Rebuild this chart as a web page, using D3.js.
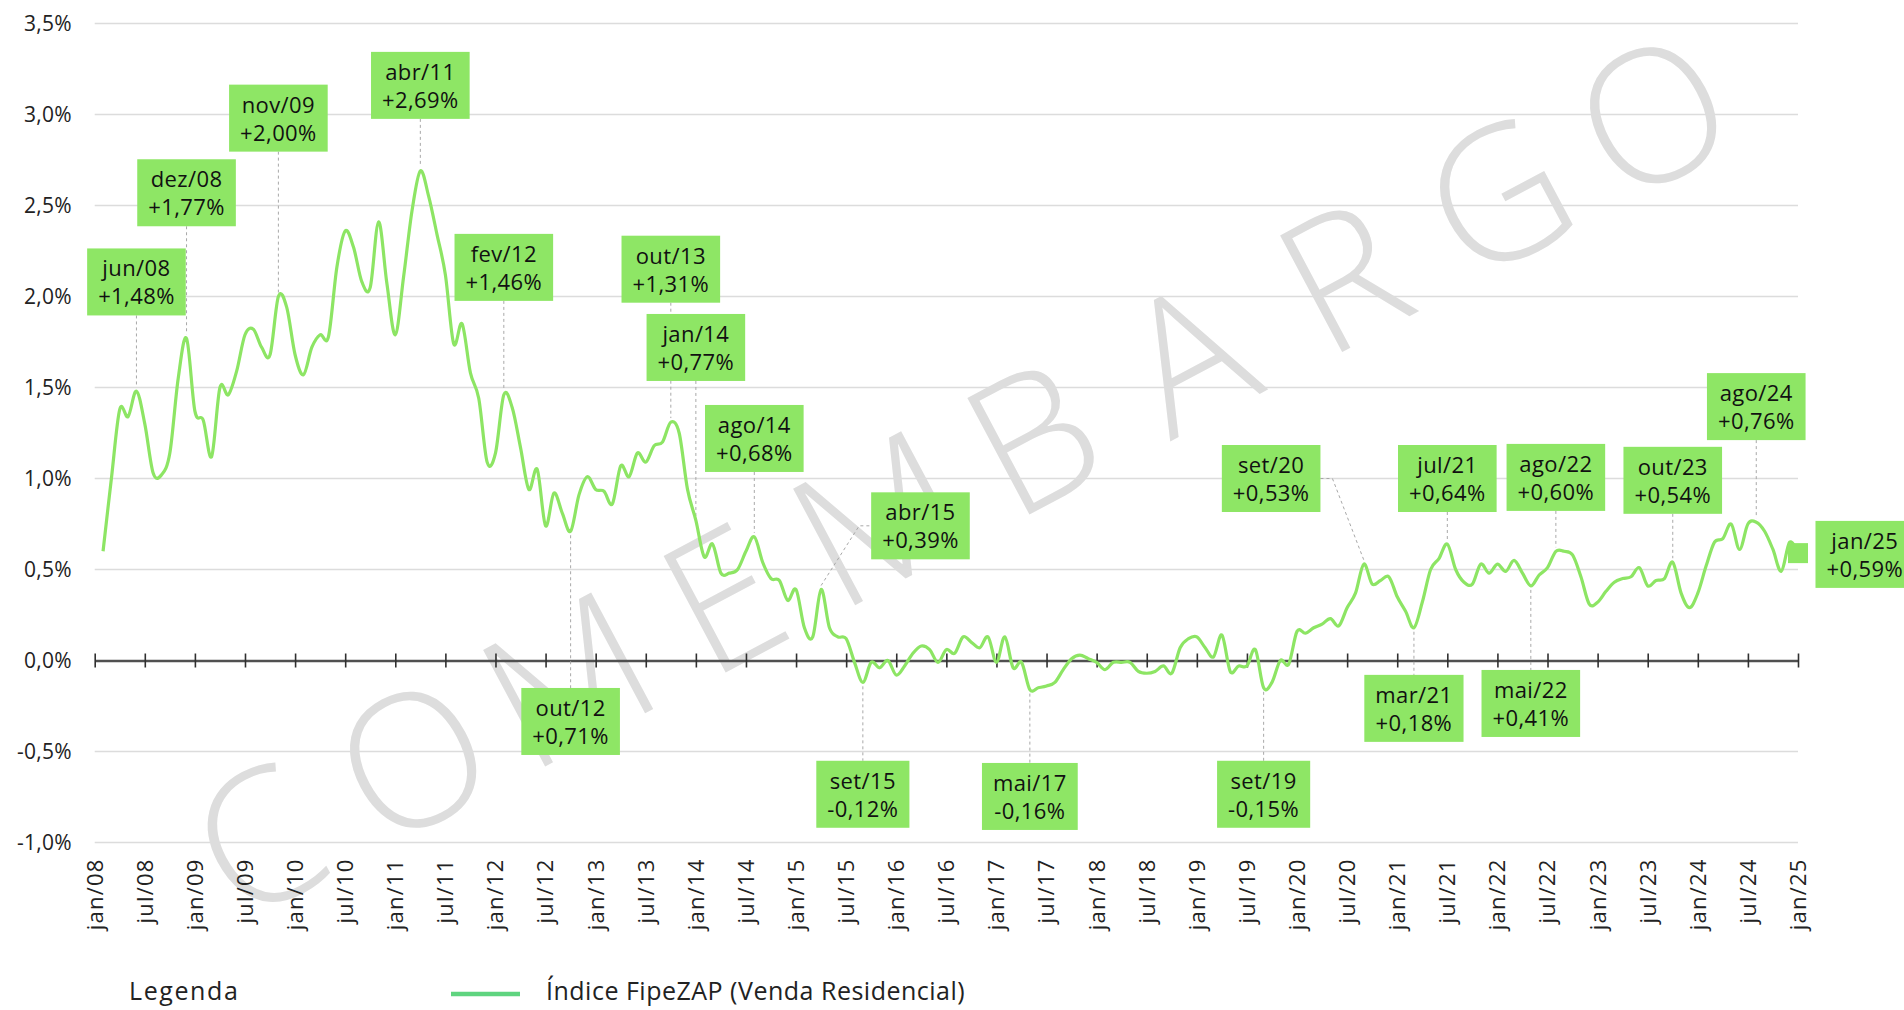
<!DOCTYPE html>
<html>
<head>
<meta charset="utf-8">
<script src="https://cdn.jsdelivr.net/npm/d3@7/dist/d3.min.js"></script>
<style>
  body { margin: 0; background: #fff; }
  text { font-family: "Open Sans", "Noto Sans", sans-serif; }
</style>
</head>
<body>
<svg id="chart"></svg>
<script>
// monthly variation (%), first value is fev/08 (month index 1 counted from jan/08)
const firstMonth = 1;
const values = [
  0.60, 1.00, 1.38, 1.34, 1.48, 1.30, 1.03, 1.02, 1.14, 1.55,
  1.77, 1.37, 1.32, 1.12, 1.50, 1.46, 1.59, 1.79, 1.82, 1.72,
  1.68, 2.00, 1.94, 1.68, 1.57, 1.72, 1.79, 1.78, 2.16, 2.36,
  2.27, 2.08, 2.05, 2.41, 2.07, 1.79, 2.11, 2.47, 2.69, 2.55,
  2.34, 2.12, 1.74, 1.85, 1.58, 1.44, 1.09, 1.14, 1.46, 1.39,
  1.17, 0.94, 1.05, 0.74, 0.92, 0.81, 0.71, 0.91, 1.01, 0.94,
  0.93, 0.86, 1.07, 1.01, 1.14, 1.09, 1.18, 1.20, 1.31, 1.25,
  0.94, 0.77, 0.57, 0.64, 0.48, 0.48, 0.50, 0.60, 0.68, 0.54,
  0.45, 0.44, 0.33, 0.39, 0.18, 0.13, 0.39, 0.18, 0.13, 0.12,
  -0.01, -0.12, -0.01, -0.04, 0.00, -0.08, -0.03, 0.04, 0.08, 0.06,
  -0.01, 0.06, 0.04, 0.13, 0.10, 0.07, 0.13, -0.01, 0.13, -0.04,
  -0.01, -0.16, -0.15, -0.14, -0.12, -0.05, 0.01, 0.03, 0.01, -0.01,
  -0.05, -0.01, -0.01, -0.01, -0.06, -0.07, -0.06, -0.03, -0.07, 0.07,
  0.12, 0.13, 0.07, 0.02, 0.14, -0.06, -0.03, -0.03, 0.06, -0.15,
  -0.12, 0.00, -0.02, 0.16, 0.15, 0.18, 0.20, 0.23, 0.19, 0.29,
  0.37, 0.53, 0.42, 0.44, 0.46, 0.35, 0.27, 0.18, 0.32, 0.50,
  0.56, 0.64, 0.50, 0.43, 0.42, 0.53, 0.48, 0.53, 0.49, 0.55,
  0.48, 0.41, 0.47, 0.51, 0.60, 0.60, 0.58, 0.46, 0.31, 0.32,
  0.38, 0.43, 0.45, 0.46, 0.51, 0.41, 0.44, 0.45, 0.54, 0.37,
  0.29, 0.37, 0.52, 0.65, 0.67, 0.75, 0.61, 0.75, 0.76, 0.71,
  0.61, 0.49, 0.65, 0.59
];

const xTickLabels = [
  "jan/08","jul/08","jan/09","jul/09","jan/10","jul/10","jan/11","jul/11","jan/12","jul/12",
  "jan/13","jul/13","jan/14","jul/14","jan/15","jul/15","jan/16","jul/16","jan/17","jul/17",
  "jan/18","jul/18","jan/19","jul/19","jan/20","jul/20","jan/21","jul/21","jan/22","jul/22",
  "jan/23","jul/23","jan/24","jul/24","jan/25"
];
const yTicks = [-1, -0.5, 0, 0.5, 1, 1.5, 2, 2.5, 3, 3.5];

// highlighted months
const noteLabels = ["jun/08","dez/08","nov/09","abr/11","fev/12","out/12","out/13","jan/14","ago/14","abr/15",
                    "set/15","mai/17","set/19","set/20","mar/21","jul/21","mai/22","ago/22","out/23","ago/24","jan/25"];
const noteMonths = [5, 11, 22, 39, 49, 57, 69, 72, 79, 87, 92, 112, 140, 152, 158, 162, 172, 175, 189, 199, 204];
const noteValues = [1.48, 1.77, 2.00, 2.69, 1.46, 0.71, 1.31, 0.77, 0.68, 0.39,
                    -0.12, -0.16, -0.15, 0.53, 0.18, 0.64, 0.41, 0.60, 0.54, 0.76, 0.59];

const seriesName = "Índice FipeZAP (Venda Residencial)";

const W = 1904, H = 1010;
const svg = d3.select("#chart").attr("width", W).attr("height", H);

const x = d3.scaleLinear().domain([0, 204]).range([94.7, 1798]);
const y = d3.scaleLinear().domain([-1, 3.5]).range([842.5, 23.5]);

const fmt = v => (v > 0 ? "+" : "") + d3.format(".2f")(v).replace(".", ",").replace("−", "-") + "%";

// gridlines
svg.append("g")
  .selectAll("line")
  .data(yTicks.filter(d => d !== 0))
  .join("line")
  .attr("x1", x(0)).attr("x2", x(204))
  .attr("y1", d => y(d)).attr("y2", d => y(d))
  .attr("stroke", "#dcdcdc").attr("stroke-width", 1.6);

// y labels
const yAxis = d3.axisLeft(y).tickValues(yTicks).tickSize(0).tickPadding(0)
  .tickFormat(d => d3.format(".1f")(d).replace(".", ",").replace("−", "-") + "%");
const yAxisG = svg.append("g").attr("transform", "translate(72,0)").call(yAxis);
yAxisG.select(".domain").remove();
yAxisG.selectAll("text").attr("font-size", 21).attr("fill", "#222")
  .attr("letter-spacing", 0.3)
  .style("font-family", '"Open Sans", sans-serif');

// watermark
const wmLetters = "COMEMBARGO".split("");
const wmStart = [258, 840], wmEnd = [1653, 115];
svg.append("g").selectAll("text")
  .data(wmLetters)
  .join("text")
  .attr("transform", (d, i) => {
    const t = i / (wmLetters.length - 1);
    const px = wmStart[0] + t * (wmEnd[0] - wmStart[0]);
    const py = wmStart[1] + t * (wmEnd[1] - wmStart[1]);
    return `translate(${px},${py}) rotate(-28)`;
  })
  .attr("text-anchor", "middle")
  .attr("dy", "0.36em")
  .attr("font-size", 185)
  .attr("font-weight", 300)
  .attr("fill", "#dddddd")
  .text(d => d);

// zero axis with ticks
const xAxis = d3.axisBottom(x)
  .tickValues(xTickLabels.map((d, i) => i * 6))
  .tickSize(0).tickFormat("");
const xAxisG = svg.append("g").attr("transform", `translate(0,${y(0)})`).call(xAxis);
xAxisG.select(".domain").attr("stroke", "#505050").attr("stroke-width", 2.6);
xAxisG.selectAll(".tick line").attr("y1", -7).attr("y2", 7)
  .attr("stroke", "#303030").attr("stroke-width", 1.6);

// x labels under the plot
svg.append("g").selectAll("text")
  .data(xTickLabels)
  .join("text")
  .attr("transform", (d, i) => `translate(${x(i * 6)},${y(-1) + 16}) rotate(-90)`)
  .attr("text-anchor", "end")
  .attr("dy", "0.36em")
  .attr("font-size", 22)
  .attr("letter-spacing", 1.2)
  .attr("fill", "#222")
  .text(d => d);

// leader lines and boxes
const boxPlace = {
  "jun/08": { v: 2.08 }, "dez/08": { v: 2.57 }, "nov/09": { v: 2.98 }, "abr/11": { v: 3.16 },
  "fev/12": { v: 2.16 }, "out/12": { v: -0.335 }, "out/13": { v: 2.15 }, "jan/14": { v: 1.72 },
  "ago/14": { v: 1.22 }, "abr/15": { v: 0.74, m: 98.9, leader: "right" }, "set/15": { v: -0.735 },
  "mai/17": { v: -0.747 }, "set/19": { v: -0.735 }, "set/20": { v: 1.0, m: 140.9, leader: "left" },
  "mar/21": { v: -0.263 }, "jul/21": { v: 1.0 }, "mai/22": { v: -0.236 }, "ago/22": { v: 1.006 },
  "out/23": { v: 0.99 }, "ago/24": { v: 1.395 }, "jan/25": { v: 0.583, m: 212, leader: "none" }
};
const boxH = 67, boxFill = "#8ee665";

const notes = noteLabels.map((lab, i) => {
  const p = boxPlace[lab];
  return { lab, month: noteMonths[i], val: noteValues[i], bv: p.v, bm: p.m === undefined ? noteMonths[i] : p.m, leader: p.leader || "v" };
});

const leaders = svg.append("g");
const lineG = svg.append("g");
const boxes = svg.append("g");

// series line
const line = d3.line()
  .x((d, i) => x(firstMonth + i))
  .y(d => y(d))
  .curve(d3.curveCardinal.tension(0));
lineG.append("path")
  .datum(values)
  .attr("d", line)
  .attr("fill", "none")
  .attr("stroke", "#8de564")
  .attr("stroke-width", 3.2);

// boxes
notes.forEach(n => {
  const cx = x(n.bm), cy = y(n.bv);
  const g = boxes.append("g");
  const rect = g.append("rect").attr("fill", boxFill);
  const t1 = g.append("text").attr("x", cx).attr("y", cy - 5.5).attr("text-anchor", "middle")
    .attr("font-size", 22).attr("letter-spacing", 0.4).attr("fill", "#111").text(n.lab);
  const t2 = g.append("text").attr("x", cx).attr("y", cy + 22.5).attr("text-anchor", "middle")
    .attr("font-size", 22).attr("letter-spacing", 0.4).attr("fill", "#111").text(fmt(n.val));
  const w = Math.max(t1.node().getComputedTextLength(), t2.node().getComputedTextLength()) + 22;
  rect.attr("x", cx - w / 2).attr("y", cy - boxH / 2).attr("width", w).attr("height", boxH);
  n.left = cx - w / 2; n.right = cx + w / 2; n.top = cy - boxH / 2; n.bottom = cy + boxH / 2; n.cy = cy;
});

notes.forEach(n => {
  const px = x(n.month), py = y(n.val);
  let pts = null;
  if (n.leader === "v") {
    pts = n.bottom < py ? [[px, n.bottom], [px, py - 4]] : [[px, py + 4], [px, n.top]];
  } else if (n.leader === "right") {
    pts = [[px, py - 4], [n.left - 12, n.cy], [n.left, n.cy]];
  } else if (n.leader === "left") {
    pts = [[n.right, n.cy], [n.right + 12, n.cy], [px, py - 4]];
  }
  if (pts) {
    leaders.append("path")
      .attr("d", d3.line()(pts))
      .attr("fill", "none")
      .attr("stroke", "#a8a8a8")
      .attr("stroke-width", 1)
      .attr("stroke-dasharray", "3,3");
  }
});

// last point marker
const last = values.length - 1;
boxes.append("rect")
  .attr("x", x(firstMonth + last) - 10).attr("y", y(values[last]) - 10)
  .attr("width", 20).attr("height", 20)
  .attr("fill", boxFill);

// legend
const legend = svg.append("g");
legend.append("text").attr("x", 129).attr("y", 1000).attr("font-size", 25)
  .attr("letter-spacing", 1.6).attr("fill", "#222").text("Legenda");
legend.append("line").attr("x1", 451).attr("x2", 520).attr("y1", 994).attr("y2", 994)
  .attr("stroke", "#5fd47f").attr("stroke-width", 4.5);
legend.append("text").attr("x", 546).attr("y", 1000).attr("font-size", 25)
  .attr("letter-spacing", 0.5).attr("fill", "#222").text(seriesName);
</script>
</body>
</html>
